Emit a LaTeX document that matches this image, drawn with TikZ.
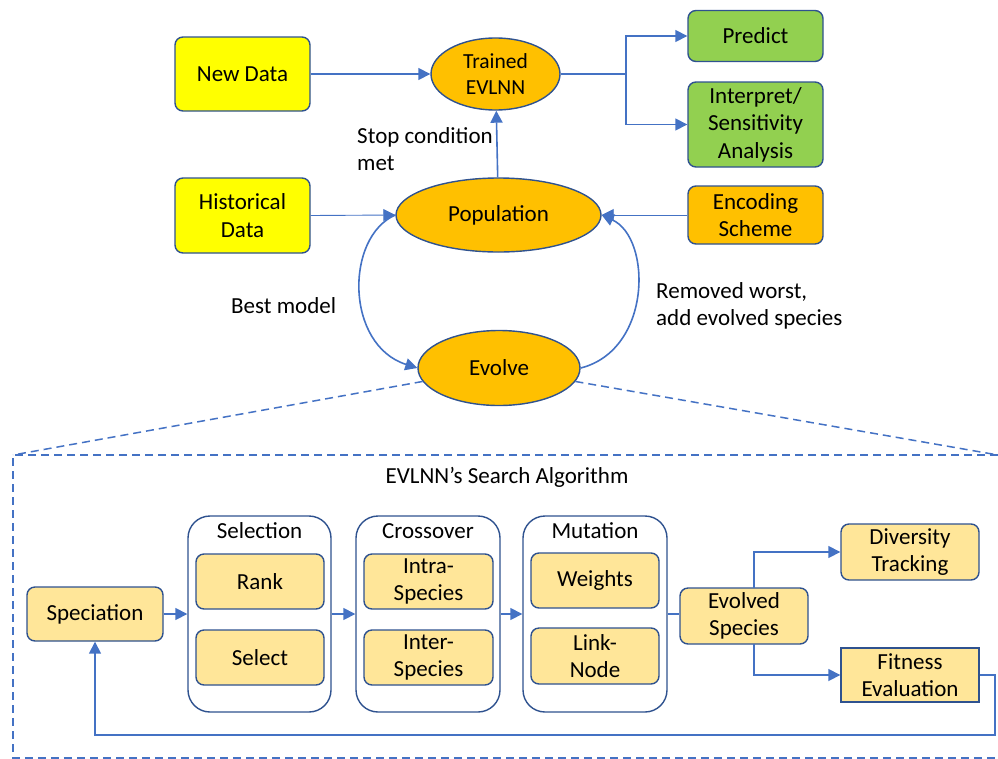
\documentclass[tikz,border=0pt]{standalone}
\usepackage{fontspec}
\setmainfont{Carlito}
\usetikzlibrary{arrows.meta,shapes.geometric}
\definecolor{lnk}{HTML}{4472C4}
\definecolor{edge}{HTML}{2F528F}
\definecolor{yel}{HTML}{FFFF00}
\definecolor{org}{HTML}{FFC000}
\definecolor{grn}{HTML}{92D050}
\definecolor{pale}{HTML}{FFE699}
\tikzset{
  txt/.style={font=\fontsize{23}{27.5}\selectfont, text=black, align=center},
  box/.style={txt, draw=edge, line width=1.4pt, rounded corners=8pt, inner sep=0pt},
  oval/.style={txt, ellipse, draw=edge, line width=1.4pt, fill=org, inner sep=0pt},
  group/.style={draw=edge, line width=1.4pt, rounded corners=22pt, fill=white},
  link/.style={draw=lnk, line width=1.6pt},
  thin link/.style={draw=lnk, line width=0.9pt},
  tip/.style={-{Triangle[length=12pt,width=12pt]}},
  zoomline/.style={draw=lnk, line width=1.5pt, dash pattern=on 8pt off 5pt},
  lbl/.style={font=\fontsize{23}{27.5}\selectfont, text=black, align=left, anchor=west, inner sep=0pt}
}
\begin{document}
\begin{tikzpicture}[x=1pt,y=-1pt]
\useasboundingbox (0,0) rectangle (998,758);

% ---------- upper workflow ----------
\node[box, fill=yel, minimum width=135pt, minimum height=74pt] (newdata) at (242.5,74) {New Data};
\node[oval, minimum width=129pt, minimum height=72pt, font=\fontsize{21.5}{26}\selectfont] (trained) at (495.5,74) {Trained\\EVLNN};
\node[box, fill=grn, minimum width=135pt, minimum height=51pt] (predict) at (755.5,36) {Predict};
\node[box, fill=grn, minimum width=135pt, minimum height=85pt] (interp) at (755.5,124.5) {Interpret/\\Sensitivity\\Analysis};
\node[box, fill=yel, minimum width=135pt, minimum height=75pt] (hist) at (242.5,215.5) {Historical\\Data};
\node[oval, minimum width=205pt, minimum height=74pt] (pop) at (498.5,215) {Population};
\node[box, fill=org, minimum width=135pt, minimum height=58pt] (enc) at (755.5,215) {Encoding\\Scheme};
\node[oval, minimum width=162pt, minimum height=75pt] (evolve) at (499,368) {Evolve};

\node[lbl] (stoplbl) at (357,149) {Stop condition\\met};
\node[lbl] (bestlbl) at (231,306) {Best model};
\node[lbl] (remlbl) at (656,306) {Removed worst,\\add evolved species};

\draw[link, tip] (newdata) -- (trained);
\coordinate (fork) at (626,74);
\draw[link, line width=2.4pt] (trained.east) -- (fork);
\draw[link, tip] (fork) |- (predict.west);
\draw[link, tip] (fork) |- (interp.west);
\draw[link, tip] (pop) -- (trained);
\draw[thin link, tip] (hist.east) -- (pop.west);
\draw[thin link, tip] (enc.west) -- (pop.east);
\draw[link, tip] (pop.west) .. controls (345,237) and (345,345) .. (evolve.west);
\draw[link, tip] (evolve.east) .. controls (652,350) and (652,238) .. (pop.east);

% ---------- zoomed search algorithm ----------
\coordinate (zl) at (13,455);
\coordinate (zr) at (998,455);
\coordinate (zbl) at (13,758);
\coordinate (zbr) at (998,758);
\draw[zoomline] (evolve.190) -- (zl);
\draw[zoomline] (evolve.350) -- (zr);
\draw[zoomline] (zr) -- (zl) -- (zbl) -- (zbr);

\node[txt] (algtitle) at (507,477) {EVLNN’s Search Algorithm};

\node[box, fill=pale, minimum width=136pt, minimum height=54pt] (spec) at (95,614) {Speciation};

\node[group, minimum width=143pt, minimum height=196pt] (selg) at (259.5,614) {};
\node[txt] (selt) at (259.5,531) {Selection};
\node[box, fill=pale, minimum width=128pt, minimum height=55pt] (rank) at (260,581.5) {Rank};
\node[box, fill=pale, minimum width=128pt, minimum height=55pt] (select) at (260,657.5) {Select};

\node[group, minimum width=144pt, minimum height=196pt] (crog) at (428,614) {};
\node[txt] (crot) at (428,531) {Crossover};
\node[box, fill=pale, minimum width=129pt, minimum height=55pt] (intra) at (428.5,581.5) {Intra-\\Species};
\node[box, fill=pale, minimum width=129pt, minimum height=55pt] (inter) at (428.5,657.5) {Inter-\\Species};

\node[group, minimum width=144pt, minimum height=196pt] (mutg) at (595,614) {};
\node[txt] (mutt) at (595,531) {Mutation};
\node[box, fill=pale, minimum width=128pt, minimum height=55pt] (weights) at (595,580.5) {Weights};
\node[box, fill=pale, minimum width=128pt, minimum height=56pt] (linknode) at (595,656) {Link-\\Node};

\node[box, fill=pale, minimum width=128pt, minimum height=56pt] (evolved) at (744,616) {Evolved\\Species};
\node[box, fill=pale, minimum width=138pt, minimum height=56pt] (divers) at (910,552) {Diversity\\Tracking};
\node[box, fill=pale, rounded corners=0pt, minimum width=138pt, minimum height=54pt] (fitness) at (910,675) {Fitness\\Evaluation};

\draw[link, tip] (spec.east) -- (selg.west |- spec.east);
\draw[link, tip] (selg.east) -- (crog.west);
\draw[link, tip] (crog.east) -- (mutg.west);
\draw[link] (mutg.east) -- (mutg.east -| evolved.west);
\coordinate (evtop) at (754,588);
\coordinate (evbot) at (754,644);
\draw[link, tip] (evtop) |- (divers.west);
\draw[link, tip] (evbot) |- (fitness.west);
\coordinate (fbr) at (995,675);
\coordinate (fbb) at (995,735);
\draw[link, tip] (fitness.east) -- (fbr) -- (fbb) -| (spec.south);
\end{tikzpicture}
\end{document}
